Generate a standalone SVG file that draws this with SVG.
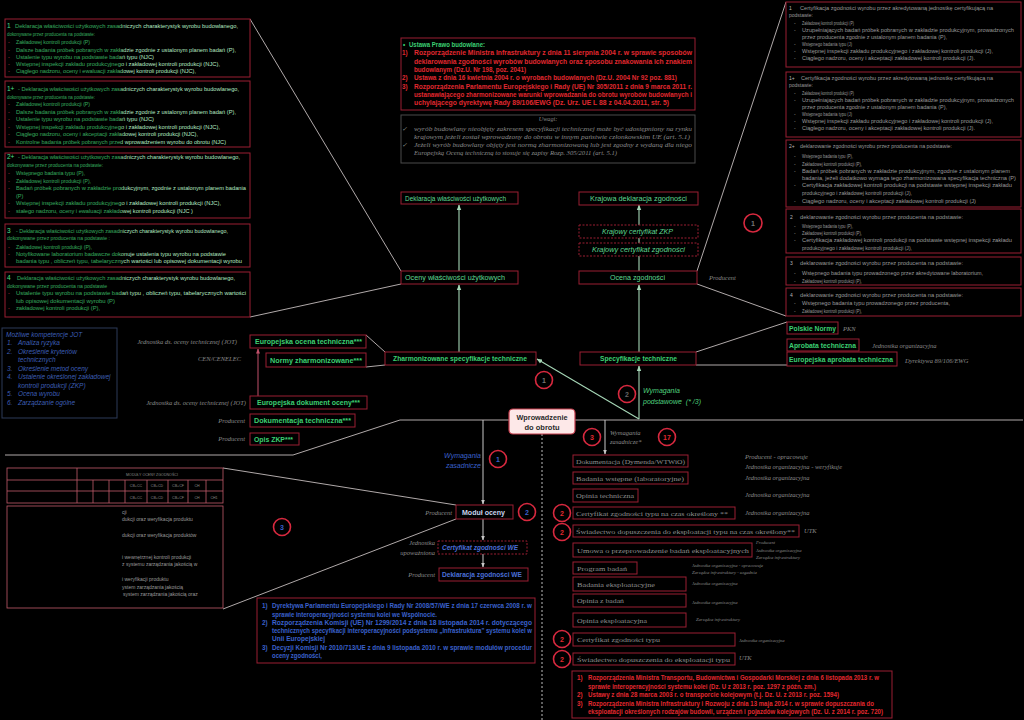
<svg xmlns="http://www.w3.org/2000/svg" width="1024" height="720" viewBox="0 0 1024 720">
<defs>
<style>
text{font-family:"Liberation Sans",Arial,sans-serif}
.bx{fill:#000;stroke:#9a1f33;stroke-width:1}
.dbx{fill:#000;stroke:#9a1f33;stroke-width:1;stroke-dasharray:2 1.5}
.lbl{fill:#3ccf72;font-size:7px;font-weight:bold}
.lbr{fill:#5fd890;font-size:7px}
.it{font-family:"Liberation Serif",serif;font-style:italic;fill:#8a8a8a;font-size:6.5px}
.its{font-family:"Liberation Serif",serif;font-style:italic;fill:#8a8a8a;font-size:4.6px}
.gtx{font-family:"Liberation Serif",serif;fill:#8e8e8e;font-size:7px}
.lt{fill:url(#lg);font-size:5.5px}
.num{fill:#4fe08a;font-size:6.5px}
.dsh{fill:#c23040;font-size:5.5px}
.rt{fill:#9a9a9a;font-size:5px}
.rd{fill:#b8b8b8;font-size:5px}
.red{fill:#e0282f;font-size:6.3px;font-weight:bold}
.blu{fill:#3a60cc;font-size:6.3px;font-weight:bold}
.uw{font-family:"Liberation Serif",serif;font-style:italic;fill:#8a8a8a;font-size:6.2px}
.jot{fill:#3d5fb5;font-size:6.5px;font-style:italic}
.c{fill:#000;stroke:#d8293f;stroke-width:1.6}
.cn{font-size:7px;font-weight:bold;text-anchor:middle}
.ln{stroke:#c4bcbc;stroke-width:0.9;fill:none}
.ga{stroke:#a5d6b6;stroke-width:1.1;fill:none;marker-end:url(#ag)}
.wa{stroke:#c8c8c8;stroke-width:1;fill:none;marker-end:url(#aw)}
.tb{fill:none;stroke:#c05a6a;stroke-width:0.8}
.tt{fill:#8a8a8a;font-size:3.6px;text-anchor:middle}
.bt{fill:#9a9a9a;font-size:5px}
</style>
<linearGradient id="lg" gradientUnits="userSpaceOnUse" x1="0" y1="0" x2="250" y2="0">
<stop offset="0.47" stop-color="#34a85c"/>
<stop offset="0.5" stop-color="#b6f2c8"/>
</linearGradient>
<marker id="ag" viewBox="0 0 10 10" refX="9" refY="5" markerWidth="5" markerHeight="5" orient="auto"><path d="M0,1 L10,5 L0,9 z" fill="#a5d6b6"/></marker>
<marker id="aw" viewBox="0 0 10 10" refX="9" refY="5" markerWidth="5" markerHeight="5" orient="auto"><path d="M0,1 L10,5 L0,9 z" fill="#c8c8c8"/></marker>
<marker id="ap" viewBox="0 0 10 10" refX="9" refY="5" markerWidth="5" markerHeight="5" orient="auto"><path d="M0,1 L10,5 L0,9 z" fill="#c0506a"/></marker>
</defs>
<rect width="1024" height="720" fill="#000"/>

<g id="connectors">
<line class="ln" x1="250" y1="19" x2="401" y2="271"/>
<line class="ln" x1="250" y1="317" x2="401" y2="284"/>
<line class="ln" x1="786" y1="2" x2="697" y2="271"/>
<line class="ln" x1="697" y1="284" x2="786" y2="316"/>
<line class="ln" x1="366" y1="335" x2="385" y2="352"/>
<line class="ln" x1="366" y1="367" x2="385" y2="365"/>
<line class="ln" x1="696" y1="352" x2="787" y2="322"/>
<line class="ln" x1="696" y1="365" x2="787" y2="365"/>
<line class="ln" x1="223" y1="468" x2="456" y2="505"/>
<line class="ln" x1="456" y1="519" x2="223" y2="609"/>
<polyline class="ln" points="5,455 293,455 400,420 1023,420"/>
<line class="ga" x1="459" y1="352" x2="459" y2="285"/>
<line class="ga" x1="459" y1="271" x2="459" y2="205"/>
<line class="ga" x1="639" y1="352" x2="639" y2="285"/>
<line class="ga" x1="639" y1="271" x2="639" y2="205"/>
<line class="ga" x1="639" y1="419" x2="639" y2="366"/>
<line class="ga" x1="639" y1="419" x2="537" y2="359"/>
<line x1="258" y1="396" x2="258" y2="349" stroke="#c0506a" stroke-width="1" marker-end="url(#ap)"/>
<line class="wa" x1="483" y1="420" x2="483" y2="504"/>
<line class="wa" x1="483" y1="519" x2="483" y2="540"/>
<line class="wa" x1="483" y1="554" x2="483" y2="567"/>
<line class="wa" x1="605" y1="420" x2="605" y2="454"/>
<line x1="542" y1="434" x2="542" y2="720" stroke="#bdbdbd" stroke-width="1" stroke-dasharray="2 2"/>
</g>

<g id="left-box-1">
<rect class="bx" x="5" y="19" width="245" height="58"/>
<text class="num" x="7" y="28">1</text>
<text class="lt" x="15" y="28" textLength="223" lengthAdjust="spacingAndGlyphs">Deklaracja właściwości użytkowych zasadniczych charakterystyk wyrobu budowlanego,</text>
<text class="lt" x="7" y="35.5" textLength="88" lengthAdjust="spacingAndGlyphs">dokonywane przez producenta na podstawie:</text>
<text class="dsh" x="8" y="44">-</text><text class="lt" x="16" y="44" textLength="74" lengthAdjust="spacingAndGlyphs">Zakładowej kontroli produkcji (P)</text>
<text class="dsh" x="8" y="51.5">-</text><text class="lt" x="16" y="51.5" textLength="220" lengthAdjust="spacingAndGlyphs">Dalsze badania próbek pobranych w zakładzie  zgodnie z ustalonym  planem badań (P),</text>
<text class="dsh" x="8" y="59">-</text><text class="lt" x="16" y="59" textLength="138" lengthAdjust="spacingAndGlyphs">Ustalenie typu wyrobu na podstawie badań typu (NJC)</text>
<text class="dsh" x="8" y="66">-</text><text class="lt" x="16" y="66" textLength="204" lengthAdjust="spacingAndGlyphs">Wstępnej inspekcji zakładu produkcyjnego  i zakładowej kontroli produkcji (NJC),</text>
<text class="dsh" x="8" y="73">-</text><text class="lt" x="16" y="73" textLength="180" lengthAdjust="spacingAndGlyphs">Ciągłego nadzoru, oceny i ewaluacji zakładowej kontroli produkcji (NJC),</text>
</g>

<g id="left-box-1plus">
<rect class="bx" x="5" y="81" width="245" height="66"/>
<text class="num" x="7" y="91">1+</text>
<text class="lt" x="18" y="91" textLength="221" lengthAdjust="spacingAndGlyphs">- Deklaracja właściwości użytkowych zasadniczych charakterystyk wyrobu budowlanego,</text>
<text class="lt" x="7" y="98.5" textLength="88" lengthAdjust="spacingAndGlyphs">dokonywane przez producenta na podstawie:</text>
<text class="dsh" x="8" y="106">-</text><text class="lt" x="16" y="106" textLength="74" lengthAdjust="spacingAndGlyphs">Zakładowej kontroli produkcji (P)</text>
<text class="dsh" x="8" y="113.5">-</text><text class="lt" x="16" y="113.5" textLength="220" lengthAdjust="spacingAndGlyphs">Dalsze badania próbek pobranych w zakładzie  zgodnie z ustalonym  planem badań (P),</text>
<text class="dsh" x="8" y="121">-</text><text class="lt" x="16" y="121" textLength="138" lengthAdjust="spacingAndGlyphs">Ustalenie typu wyrobu na podstawie badań typu (NJC)</text>
<text class="dsh" x="8" y="128.5">-</text><text class="lt" x="16" y="128.5" textLength="204" lengthAdjust="spacingAndGlyphs">Wstępnej inspekcji zakładu produkcyjnego  i zakładowej kontroli produkcji (NJC),</text>
<text class="dsh" x="8" y="136">-</text><text class="lt" x="16" y="136" textLength="182" lengthAdjust="spacingAndGlyphs">Ciągłego nadzoru, oceny i akceptacji zakładowej kontroli produkcji (NJC),</text>
<text class="dsh" x="8" y="143.5">-</text><text class="lt" x="16" y="143.5" textLength="210" lengthAdjust="spacingAndGlyphs">Kontrolne badania próbek pobranych przed wprowadzeniem wyrobu do obrotu (NJC)</text>
</g>

<g id="left-box-2plus">
<rect class="bx" x="5" y="153" width="245" height="65"/>
<text class="num" x="7" y="159">2+</text>
<text class="lt" x="18" y="159" textLength="222" lengthAdjust="spacingAndGlyphs">- Deklaracja właściwości użytkowych zasadniczych charakterystyk wyrobu budowlanego,</text>
<text class="lt" x="7" y="167" textLength="96" lengthAdjust="spacingAndGlyphs">dokonywane przez producenta na podstawie:</text>
<text class="dsh" x="8" y="175">-</text><text class="lt" x="16" y="175" textLength="69" lengthAdjust="spacingAndGlyphs">Wstępnego badania typu (P),</text>
<text class="dsh" x="8" y="182.5">-</text><text class="lt" x="16" y="182.5" textLength="75" lengthAdjust="spacingAndGlyphs">Zakładowej kontroli produkcji (P),</text>
<text class="dsh" x="8" y="190">-</text><text class="lt" x="16" y="190" textLength="230" lengthAdjust="spacingAndGlyphs">Badań próbek pobranych w zakładzie produkcyjnym, zgodnie z ustalonym  planem badania</text>
<text class="lt" x="16" y="197.5">(P)</text>
<text class="dsh" x="8" y="205">-</text><text class="lt" x="16" y="205" textLength="205" lengthAdjust="spacingAndGlyphs">Wstępnej inspekcji zakładu produkcyjnego i  zakładowej kontroli produkcji  (NJC),</text>
<text class="dsh" x="8" y="212.5">-</text><text class="lt" x="16" y="212.5" textLength="177" lengthAdjust="spacingAndGlyphs">stałego nadzoru, oceny i ewaluacji zakładowej kontroli produkcji (NJC )</text>
</g>

<g id="left-box-3">
<rect class="bx" x="5" y="224" width="245" height="43"/>
<text class="num" x="7" y="233">3</text>
<text class="lt" x="16" y="233" textLength="212" lengthAdjust="spacingAndGlyphs">- Deklaracja właściwości użytkowych zasadniczych charakterystyk wyrobu budowlanego,</text>
<text class="lt" x="7" y="240" textLength="103" lengthAdjust="spacingAndGlyphs">dokonywane przez producenta na podstawie :</text>
<text class="dsh" x="8" y="248.5">-</text><text class="lt" x="16" y="248.5" textLength="76" lengthAdjust="spacingAndGlyphs">Zakładowej kontroli produkcji (P),</text>
<text class="dsh" x="8" y="256">-</text><text class="lt" x="16" y="256" textLength="210" lengthAdjust="spacingAndGlyphs">Notyfikowane laboratorium badawcze dokonuje ustalenia typu wyrobu na podstawie</text>
<text class="lt" x="16" y="263" textLength="226" lengthAdjust="spacingAndGlyphs">badania typu , obliczeń typu, tabelarycznych wartości lub opisowej dokumentacji wyrobu</text>
</g>

<g id="left-box-4">
<rect class="bx" x="5" y="272" width="245" height="45"/>
<text class="num" x="7" y="280">4</text>
<text class="lt" x="17" y="280" textLength="218" lengthAdjust="spacingAndGlyphs">Deklaracja właściwości użytkowych zasadniczych charakterystyk wyrobu budowlanego,</text>
<text class="lt" x="7" y="287.5" textLength="100" lengthAdjust="spacingAndGlyphs">dokonywane przez producenta na podstawie</text>
<text class="dsh" x="8" y="295">-</text><text class="lt" x="16" y="295" textLength="230" lengthAdjust="spacingAndGlyphs">Ustalenie typu wyrobu na podstawie badań typu , obliczeń typu, tabelarycznych wartości</text>
<text class="lt" x="16" y="302.5" textLength="99" lengthAdjust="spacingAndGlyphs">lub opisowej dokumentacji wyrobu (P)</text>
<text class="dsh" x="8" y="310">-</text><text class="lt" x="16" y="310" textLength="84" lengthAdjust="spacingAndGlyphs">zakładowej kontroli produkcji (P),</text>
</g>

<g id="legal-box-top">
<rect class="bx" x="401" y="38" width="294" height="72"/>
<text x="403" y="47" fill="#3ccf72" font-size="6.3" font-weight="bold">•</text>
<text x="409" y="47" fill="#3ccf72" font-size="6.3" font-weight="bold" textLength="76" lengthAdjust="spacingAndGlyphs">Ustawa Prawo budowlane:</text>
<text class="red" x="402" y="55">1)</text>
<text class="red" x="414" y="55" textLength="278" lengthAdjust="spacingAndGlyphs">Rozporządzenie Ministra Infrastruktury z dnia 11 sierpnia 2004 r. w sprawie sposobów</text>
<text class="red" x="414" y="64" textLength="278" lengthAdjust="spacingAndGlyphs">deklarowania zgodności wyrobów budowlanych oraz sposobu znakowania ich znakiem</text>
<text class="red" x="414" y="72" textLength="112" lengthAdjust="spacingAndGlyphs">budowlanym (Dz.U. Nr 198, poz. 2041)</text>
<text class="red" x="402" y="80">2)</text>
<text class="red" x="414" y="80" textLength="263" lengthAdjust="spacingAndGlyphs">Ustawa  z dnia 16 kwietnia 2004 r.  o wyrobach budowlanych (Dz.U. 2004 Nr 92 poz. 881)</text>
<text class="red" x="402" y="89">3)</text>
<text class="red" x="414" y="89" textLength="278" lengthAdjust="spacingAndGlyphs">Rozporządzenia Parlamentu Europejskiego i Rady (UE) Nr 305/2011 z dnia 9 marca 2011 r.</text>
<text class="red" x="414" y="97" textLength="278" lengthAdjust="spacingAndGlyphs">ustanawiającego zharmonizowane warunki wprowadzania do obrotu wyrobów budowlanych i</text>
<text class="red" x="414" y="105" textLength="255" lengthAdjust="spacingAndGlyphs">uchylającego dyrektywę Rady 89/106/EWG (Dz. Urz. UE L 88 z 04.04.2011, str. 5)</text>
</g>

<g id="uwagi-box">
<rect x="401" y="115" width="294" height="48" fill="#000" stroke="#4a4a4a" stroke-width="1"/>
<text class="uw" x="548" y="121" text-anchor="middle">Uwagi:</text>
<text class="uw" x="402" y="131">✓</text>
<text class="uw" x="414" y="131" textLength="278" lengthAdjust="spacingAndGlyphs">wyrób budowlany nieobjęty zakresem specyfikacji technicznej może być udostępniony na rynku</text>
<text class="uw" x="414" y="139" textLength="276" lengthAdjust="spacingAndGlyphs">krajowym jeżeli został wprowadzony do obrotu w innym państwie członkowskim UE (art. 5.1)</text>
<text class="uw" x="402" y="147">✓</text>
<text class="uw" x="414" y="147" textLength="278" lengthAdjust="spacingAndGlyphs">Jeżeli wyrób budowlany objęty jest normą zharmonizowaną lub jest zgodny z wydaną dla niego</text>
<text class="uw" x="414" y="155" textLength="203" lengthAdjust="spacingAndGlyphs">Europejską Oceną techniczną to stosuje się zapisy Rozp. 305/2011 (art. 5.1)</text>
</g>

<g id="deklaracja-wu">
<rect class="bx" x="401" y="192" width="117" height="12"/>
<text class="lbr" x="405" y="200.5" textLength="101" lengthAdjust="spacingAndGlyphs">Deklaracja właściwości użytkowych</text>
</g>
<g id="oceny-wu">
<rect class="bx" x="401" y="271" width="117" height="13"/>
<text class="lbr" x="405" y="280" textLength="100" lengthAdjust="spacingAndGlyphs">Oceny właściwości użytkowych</text>
</g>
<g id="krajowa-deklaracja">
<rect class="bx" x="579" y="192" width="119" height="13"/>
<text class="lbr" x="590" y="201" textLength="97" lengthAdjust="spacingAndGlyphs">Krajowa deklaracja zgodności</text>
</g>
<g id="krajowy-cert-zkp">
<rect class="dbx" x="579" y="225" width="119" height="13"/>
<text class="lbr" x="602" y="234" font-style="italic" textLength="71" lengthAdjust="spacingAndGlyphs">Krajowy certyfikat ZKP</text>
</g>
<g id="krajowy-cert-zgod">
<rect class="dbx" x="579" y="243" width="119" height="13"/>
<text class="lbr" x="592" y="252" font-style="italic" textLength="93" lengthAdjust="spacingAndGlyphs">Krajowy certyfikat zgodności</text>
</g>
<g id="ocena-zgodnosci">
<rect class="bx" x="579" y="271" width="118" height="13"/>
<text class="lbr" x="610" y="280" textLength="55" lengthAdjust="spacingAndGlyphs">Ocena zgodności</text>
</g>
<g id="zharmonizowane">
<rect class="bx" x="385" y="352" width="151" height="13"/>
<text class="lbl" x="393" y="361" textLength="134" lengthAdjust="spacingAndGlyphs">Zharmonizowane specyfikacje techniczne</text>
</g>
<g id="specyfikacje">
<rect class="bx" x="580" y="352" width="116" height="13"/>
<text class="lbl" x="600" y="361" textLength="77" lengthAdjust="spacingAndGlyphs">Specyfikacje techniczne</text>
</g>
<g id="polskie-normy">
<rect class="bx" x="787" y="322" width="51" height="12"/>
<text class="lbl" x="789" y="330.5" textLength="47" lengthAdjust="spacingAndGlyphs">Polskie Normy</text>
<text class="it" x="843" y="331">PKN</text>
</g>
<g id="aprobata">
<rect class="bx" x="787" y="339" width="72" height="12"/>
<text class="lbl" x="789" y="347.5" textLength="67" lengthAdjust="spacingAndGlyphs">Aprobata techniczna</text>
<text class="it" x="872" y="348">Jednostka organizacyjna</text>
</g>
<g id="europejska-aprobata">
<rect class="bx" x="787" y="352" width="110" height="14"/>
<text class="lbl" x="789" y="361.5" textLength="104" lengthAdjust="spacingAndGlyphs">Europejska aprobata techniczna</text>
<text class="it" x="905" y="363">Dyrektywa 89/106/EWG</text>
</g>
<g id="eur-ocena-techniczna">
<rect class="bx" x="250" y="335" width="116" height="13"/>
<text class="lbl" x="255" y="344" textLength="107" lengthAdjust="spacingAndGlyphs">Europejska ocena techniczna***</text>
<text class="it" x="237" y="344" text-anchor="end">Jednostka ds. oceny technicznej (JOT)</text>
</g>
<g id="normy-zharm">
<rect class="bx" x="266" y="353" width="100" height="14"/>
<text class="lbl" x="270" y="362.5" textLength="92" lengthAdjust="spacingAndGlyphs">Normy zharmonizowane***</text>
<text class="it" x="241" y="361" text-anchor="end">CEN/CENELEC</text>
</g>
<g id="eur-dokument-oceny">
<rect class="bx" x="250" y="396" width="117" height="13"/>
<text class="lbl" x="257" y="405" textLength="103" lengthAdjust="spacingAndGlyphs">Europejska dokument oceny***</text>
<text class="it" x="246" y="405" text-anchor="end">Jednostka ds. oceny technicznej (JOT)</text>
</g>
<g id="dokumentacja-techniczna">
<rect class="bx" x="250" y="414" width="105" height="13"/>
<text class="lbl" x="254" y="423" textLength="97" lengthAdjust="spacingAndGlyphs">Dokumentacja techniczna***</text>
<text class="it" x="245" y="423" text-anchor="end">Producent</text>
</g>
<g id="opis-zkp">
<rect class="bx" x="250" y="433" width="49" height="12"/>
<text class="lbl" x="254" y="441.5" textLength="39" lengthAdjust="spacingAndGlyphs">Opis ZKP***</text>
<text class="it" x="245" y="441" text-anchor="end">Producent</text>
</g>

<g id="kompetencje-jot">
<rect x="2" y="328" width="115" height="90" fill="#000" stroke="#2c3a58" stroke-width="1"/>
<text class="jot" x="6" y="337">Możliwe kompetencje JOT</text>
<text class="jot" x="7" y="345">1.</text><text class="jot" x="18" y="345">Analiza ryzyka</text>
<text class="jot" x="7" y="354">2.</text><text class="jot" x="18" y="354">Określenie kryteriów</text>
<text class="jot" x="18" y="362">technicznych</text>
<text class="jot" x="7" y="371">3.</text><text class="jot" x="18" y="371">Określenie metod oceny</text>
<text class="jot" x="7" y="379">4.</text><text class="jot" x="18" y="379">Ustalenie określonej zakładowej</text>
<text class="jot" x="18" y="388">kontroli produkcji (ZKP)</text>
<text class="jot" x="7" y="396">5.</text><text class="jot" x="18" y="396">Ocena wyrobu</text>
<text class="jot" x="7" y="405">6.</text><text class="jot" x="18" y="405">Zarządzanie ogólne</text>
</g>

<g id="cert-boxes-right">
<rect class="bx" x="786" y="2" width="235" height="65"/>
<text class="rd" x="789" y="10">1</text>
<text class="rt" x="800" y="10" textLength="193" lengthAdjust="spacingAndGlyphs">Certyfikacja zgodności wyrobu przez akredytowaną jednostkę certyfikującą na</text>
<text class="rt" x="789" y="17">podstawie:</text>
<text class="rt" x="794" y="25">-</text><text class="rt" x="802" y="25" textLength="52" lengthAdjust="spacingAndGlyphs">Zakładowej kontroli produkcji (P)</text>
<text class="rt" x="794" y="32">-</text><text class="rt" x="802" y="32" textLength="212" lengthAdjust="spacingAndGlyphs">Uzupełniających badań próbek pobranych w zakładzie produkcyjnym, prowadzonych</text>
<text class="rt" x="802" y="39" textLength="145" lengthAdjust="spacingAndGlyphs">przez producenta zgodnie z ustalonym  planem badania (P),</text>
<text class="rt" x="794" y="46">-</text><text class="rt" x="802" y="46" textLength="50" lengthAdjust="spacingAndGlyphs">Wstępnego badania typu (J)</text>
<text class="rt" x="794" y="53">-</text><text class="rt" x="802" y="53" textLength="191" lengthAdjust="spacingAndGlyphs">Wstępnej inspekcji zakładu produkcyjnego  i zakładowej kontroli produkcji (J),</text>
<text class="rt" x="794" y="60">-</text><text class="rt" x="802" y="60" textLength="173" lengthAdjust="spacingAndGlyphs">Ciągłego nadzoru, oceny i akceptacji zakładowej kontroli produkcji (J).</text>

<rect class="bx" x="786" y="72" width="235" height="65"/>
<text class="rd" x="789" y="80">1+</text>
<text class="rt" x="801" y="80" textLength="192" lengthAdjust="spacingAndGlyphs">Certyfikacja zgodności wyrobu przez akredytowaną jednostkę certyfikującą na</text>
<text class="rt" x="789" y="87">podstawie:</text>
<text class="rt" x="794" y="95">-</text><text class="rt" x="802" y="95" textLength="52" lengthAdjust="spacingAndGlyphs">Zakładowej kontroli produkcji (P)</text>
<text class="rt" x="794" y="102">-</text><text class="rt" x="802" y="102" textLength="212" lengthAdjust="spacingAndGlyphs">Uzupełniających badań próbek pobranych w zakładzie produkcyjnym, prowadzonych</text>
<text class="rt" x="802" y="109" textLength="145" lengthAdjust="spacingAndGlyphs">przez producenta zgodnie z ustalonym  planem badania (P),</text>
<text class="rt" x="794" y="116">-</text><text class="rt" x="802" y="116" textLength="50" lengthAdjust="spacingAndGlyphs">Wstępnego badania typu (J)</text>
<text class="rt" x="794" y="123">-</text><text class="rt" x="802" y="123" textLength="191" lengthAdjust="spacingAndGlyphs">Wstępnej inspekcji zakładu produkcyjnego  i zakładowej kontroli produkcji (J),</text>
<text class="rt" x="794" y="130">-</text><text class="rt" x="802" y="130" textLength="173" lengthAdjust="spacingAndGlyphs">Ciągłego nadzoru, oceny i akceptacji zakładowej kontroli produkcji (J).</text>

<rect class="bx" x="786" y="140" width="235" height="67"/>
<text class="rd" x="789" y="148">2+</text>
<text class="rt" x="800" y="148" textLength="152" lengthAdjust="spacingAndGlyphs">deklarowanie zgodności wyrobu przez producenta na podstawie:</text>
<text class="rt" x="794" y="158">-</text><text class="rt" x="802" y="158" textLength="51" lengthAdjust="spacingAndGlyphs">Wstępnego badania typu (P),</text>
<text class="rt" x="794" y="166">-</text><text class="rt" x="802" y="166" textLength="60" lengthAdjust="spacingAndGlyphs">Zakładowej kontroli produkcji (P),</text>
<text class="rt" x="794" y="173">-</text><text class="rt" x="802" y="173" textLength="208" lengthAdjust="spacingAndGlyphs">Badań próbek pobranych w zakładzie produkcyjnym, zgodnie z ustalonym  planem</text>
<text class="rt" x="802" y="180" textLength="214" lengthAdjust="spacingAndGlyphs">badania, jeżeli dodatkowo wymaga tego zharmonizowana specyfikacja techniczna (P)</text>
<text class="rt" x="794" y="187">-</text><text class="rt" x="802" y="187" textLength="210" lengthAdjust="spacingAndGlyphs">Certyfikacja zakładowej kontroli produkcji  na podstawie wstępnej inspekcji zakładu</text>
<text class="rt" x="802" y="195" textLength="110" lengthAdjust="spacingAndGlyphs">produkcyjnego  i zakładowej kontroli produkcji (J),</text>
<text class="rt" x="794" y="203">-</text><text class="rt" x="802" y="203" textLength="174" lengthAdjust="spacingAndGlyphs">Ciągłego nadzoru, oceny i akceptacji zakładowej kontroli produkcji (J)</text>

<rect class="bx" x="786" y="209" width="235" height="44"/>
<text class="rd" x="790" y="219">2</text>
<text class="rt" x="800" y="219" textLength="163" lengthAdjust="spacingAndGlyphs">deklarowanie zgodności wyrobu przez producenta na podstawie:</text>
<text class="rt" x="794" y="228">-</text><text class="rt" x="802" y="228" textLength="51" lengthAdjust="spacingAndGlyphs">Wstępnego badania typu (P),</text>
<text class="rt" x="794" y="235">-</text><text class="rt" x="802" y="235" textLength="60" lengthAdjust="spacingAndGlyphs">Zakładowej kontroli produkcji (P),</text>
<text class="rt" x="794" y="242">-</text><text class="rt" x="802" y="242" textLength="210" lengthAdjust="spacingAndGlyphs">Certyfikacja zakładowej kontroli produkcji  na podstawie wstępnej inspekcji zakładu</text>
<text class="rt" x="802" y="250" textLength="110" lengthAdjust="spacingAndGlyphs">produkcyjnego  i zakładowej kontroli produkcji (J),</text>

<rect class="bx" x="786" y="257" width="235" height="28"/>
<text class="rd" x="790" y="265">3</text>
<text class="rt" x="800" y="265" textLength="163" lengthAdjust="spacingAndGlyphs">deklarowanie zgodności wyrobu przez producenta na podstawie:</text>
<text class="rt" x="794" y="275">-</text><text class="rt" x="802" y="275" textLength="181" lengthAdjust="spacingAndGlyphs">Wstępnego badania typu prowadzonego przez akredytowane laboratorium,</text>
<text class="rt" x="794" y="283">-</text><text class="rt" x="802" y="283" textLength="60" lengthAdjust="spacingAndGlyphs">Zakładowej kontroli produkcji (P),</text>

<rect class="bx" x="786" y="288" width="235" height="28"/>
<text class="rd" x="790" y="297">4</text>
<text class="rt" x="800" y="297" textLength="163" lengthAdjust="spacingAndGlyphs">deklarowanie zgodności wyrobu przez producenta na podstawie:</text>
<text class="rt" x="794" y="305">-</text><text class="rt" x="802" y="305" textLength="148" lengthAdjust="spacingAndGlyphs">Wstępnego badania typu prowadzonego przez producenta,</text>
<text class="rt" x="794" y="313">-</text><text class="rt" x="802" y="313" textLength="60" lengthAdjust="spacingAndGlyphs">Zakładowej kontroli produkcji (P),</text>
</g>

<g id="producent-label-right">
<text class="it" x="709" y="280">Producent</text>
</g>

<g id="circles">
<circle class="c" cx="753" cy="223" r="9"/><text class="cn" x="753" y="225.5" fill="#777">1</text>
<circle class="c" cx="544" cy="380" r="8.5"/><text class="cn" x="544" y="382.5" fill="#777">1</text>
<circle class="c" cx="627" cy="394" r="8.5"/><text class="cn" x="627" y="396.5" fill="#666">2</text>
<circle class="c" cx="498" cy="459" r="8.5"/><text class="cn" x="498" y="461.5" fill="#3a60cc">1</text>
<circle class="c" cx="592" cy="437" r="8.5"/><text class="cn" x="592" y="439.5" fill="#e0282f">3</text>
<circle class="c" cx="667" cy="437" r="8.5"/><text class="cn" x="667" y="439.5" fill="#e0282f">17</text>
<circle class="c" cx="527" cy="512" r="8.5"/><text class="cn" x="527" y="514.5" fill="#3a60cc">2</text>
<circle class="c" cx="282" cy="527" r="8.5"/><text class="cn" x="282" y="529.5" fill="#3a60cc">3</text>
<circle class="c" cx="562" cy="513" r="8.5"/><text class="cn" x="562" y="515.5" fill="#e0282f">2</text>
<circle class="c" cx="562" cy="532" r="8.5"/><text class="cn" x="562" y="534.5" fill="#e0282f">2</text>
<circle class="c" cx="562" cy="639" r="8.5"/><text class="cn" x="562" y="641.5" fill="#e0282f">2</text>
<circle class="c" cx="562" cy="659" r="8.5"/><text class="cn" x="562" y="661.5" fill="#e0282f">2</text>
</g>

<g id="wymagania-labels">
<text x="643" y="393" fill="#4fd27f" font-size="7" font-style="italic">Wymagania</text>
<text x="643" y="404" fill="#4fd27f" font-size="7" font-style="italic" xml:space="preserve">podstawowe  (* /3)</text>
<text x="481" y="458" fill="#3a60cc" font-size="7" font-style="italic" text-anchor="end">Wymagania</text>
<text x="481" y="468" fill="#3a60cc" font-size="7" font-style="italic" text-anchor="end">zasadnicze</text>
<text class="it" x="610" y="435" font-size="6">Wymagania</text>
<text class="it" x="610" y="444" font-size="6">zasadnicze*</text>
</g>

<g id="wprowadzenie">
<rect x="509" y="409" width="66" height="25" rx="4" fill="#fde8e8" stroke="#c43a4a" stroke-width="1.2"/>
<text x="542" y="419.5" fill="#2a2a2a" font-size="7.5" font-weight="bold" text-anchor="middle" textLength="51" lengthAdjust="spacingAndGlyphs">Wprowadzenie</text>
<text x="542" y="430" fill="#2a2a2a" font-size="7.5" font-weight="bold" text-anchor="middle">do obrotu</text>
</g>

<g id="modul-oceny">
<rect class="bx" x="456" y="505" width="57" height="14"/>
<text x="462" y="514.5" fill="#c8d4ee" font-size="7" font-weight="bold" textLength="43" lengthAdjust="spacingAndGlyphs">Moduł oceny</text>
<text class="it" x="452" y="515" text-anchor="end">Producent</text>
</g>
<g id="certyfikat-we">
<rect class="dbx" x="438" y="541" width="89" height="13"/>
<text x="442" y="550" fill="#4a6fd8" font-size="7" font-weight="bold" font-style="italic" textLength="76" lengthAdjust="spacingAndGlyphs">Certyfikat zgodności WE</text>
<text class="it" x="435" y="545" text-anchor="end">Jednostka</text>
<text class="it" x="435" y="555" text-anchor="end">upoważniona</text>
</g>
<g id="deklaracja-we">
<rect class="bx" x="439" y="568" width="89" height="13"/>
<text x="442" y="577" fill="#4a6fd8" font-size="7" font-weight="bold" textLength="80" lengthAdjust="spacingAndGlyphs">Deklaracja zgodności WE</text>
<text class="it" x="435" y="577" text-anchor="end">Producent</text>
</g>

<g id="legal-box-eu">
<rect class="bx" x="257" y="598" width="278" height="65"/>
<text class="blu" x="262" y="608">1)</text>
<text class="blu" x="272" y="608" textLength="260" lengthAdjust="spacingAndGlyphs">Dyrektywa Parlamentu Europejskiego i Rady Nr 2008/57/WE z dnia 17 czerwca 2008 r. w</text>
<text class="blu" x="272" y="616.5" textLength="165" lengthAdjust="spacingAndGlyphs">sprawie interoperacyjności  systemu kolei we Wspólnocie.</text>
<text class="blu" x="262" y="625">2)</text>
<text class="blu" x="272" y="625" textLength="260" lengthAdjust="spacingAndGlyphs">Rozporządzenia Komisji (UE) Nr 1299/2014 z dnia 18 listopada 2014 r. dotyczącego</text>
<text class="blu" x="272" y="633" textLength="260" lengthAdjust="spacingAndGlyphs">technicznych specyfikacji interoperacyjności podsystemu „Infrastruktura" systemu kolei w</text>
<text class="blu" x="272" y="641" textLength="53" lengthAdjust="spacingAndGlyphs">Unii Europejskiej</text>
<text class="blu" x="262" y="650">3)</text>
<text class="blu" x="272" y="650" textLength="260" lengthAdjust="spacingAndGlyphs">Decyzji Komisji Nr 2010/713/UE z dnia 9 listopada 2010 r. w sprawie modułów procedur</text>
<text class="blu" x="272" y="658" textLength="50" lengthAdjust="spacingAndGlyphs">oceny zgodności,</text>
</g>

<g id="modules-table">
<rect class="tb" x="7" y="468" width="216" height="35"/>
<line class="tb" x1="7" y1="480" x2="223" y2="480"/>
<line class="tb" x1="7" y1="491" x2="223" y2="491"/>
<line class="tb" x1="77" y1="468" x2="77" y2="503"/>
<line class="tb" x1="93" y1="480" x2="93" y2="503"/>
<line class="tb" x1="109" y1="480" x2="109" y2="503"/>
<line class="tb" x1="125" y1="480" x2="125" y2="503"/>
<line class="tb" x1="147" y1="480" x2="147" y2="503"/>
<line class="tb" x1="168" y1="480" x2="168" y2="503"/>
<line class="tb" x1="188" y1="480" x2="188" y2="503"/>
<line class="tb" x1="206" y1="480" x2="206" y2="503"/>
<text class="tt" x="152" y="475.5">MODUŁY OCENY ZGODNOŚCI</text>
<text class="tt" x="136" y="487">CB+CC</text><text class="tt" x="157" y="487">CB+CD</text><text class="tt" x="178" y="487">CB+CF</text><text class="tt" x="197" y="487">CH</text>
<text class="tt" x="136" y="498.5">CB+CC</text><text class="tt" x="157" y="498.5">CB+CD</text><text class="tt" x="178" y="498.5">CB+CF</text><text class="tt" x="197" y="498.5">CH</text><text class="tt" x="214" y="498.5">CH1</text>
</g>
<g id="modules-text">
<rect class="tb" x="7" y="506" width="216" height="102"/>
<text class="bt" x="122" y="514">cji</text>
<text class="bt" x="122" y="521">dukcji oraz weryfikacja produktu</text>
<text class="bt" x="122" y="537">dukcji oraz weryfikacja produktów</text>
<text class="bt" x="122" y="559">i wewnętrznej kontroli produkcji</text>
<text class="bt" x="122" y="566">z systemu zarządzania jakością w</text>
<text class="bt" x="122" y="581">i weryfikacji produktu</text>
<text class="bt" x="122" y="588.5">ystem zarządzania jakością</text>
<text class="bt" x="123" y="596">system zarządzania jakością oraz</text>
</g>

<g id="rail-steps">
<rect class="bx" x="573" y="455" width="115" height="12"/>
<text class="gtx" x="576" y="464" textLength="109" lengthAdjust="spacingAndGlyphs">Dokumentacja (Dymenda/WTWiO)</text>
<rect class="bx" x="573" y="472" width="115" height="12"/>
<text class="gtx" x="576" y="481" textLength="108" lengthAdjust="spacingAndGlyphs">Badania wstępne (laboratoryjne)</text>
<rect class="bx" x="573" y="489" width="65" height="13"/>
<text class="gtx" x="576" y="498" textLength="58" lengthAdjust="spacingAndGlyphs">Opinia techniczna</text>
<rect class="bx" x="573" y="507" width="162" height="12"/>
<text class="gtx" x="576" y="516" textLength="152" lengthAdjust="spacingAndGlyphs">Certyfikat zgodności typu na czas określony **</text>
<rect class="bx" x="573" y="525" width="226" height="12"/>
<text class="gtx" x="576" y="534" textLength="219" lengthAdjust="spacingAndGlyphs">Świadectwo dopuszczenia do eksploatacji typu na czas określony**</text>
<rect class="bx" x="573" y="543" width="179" height="14"/>
<text class="gtx" x="577" y="553" textLength="172" lengthAdjust="spacingAndGlyphs">Umowa o przeprowadzenie badań eksploatacyjnych</text>
<rect class="bx" x="573" y="562" width="64" height="12"/>
<text class="gtx" x="577" y="571" textLength="50" lengthAdjust="spacingAndGlyphs">Program badań</text>
<rect class="bx" x="573" y="577" width="113" height="14"/>
<text class="gtx" x="577" y="587" textLength="78" lengthAdjust="spacingAndGlyphs">Badania eksploatacyjne</text>
<rect class="bx" x="573" y="594" width="113" height="13"/>
<text class="gtx" x="577" y="603" textLength="47" lengthAdjust="spacingAndGlyphs">Opinia z badań</text>
<rect class="bx" x="573" y="613" width="113" height="14"/>
<text class="gtx" x="577" y="623" textLength="70" lengthAdjust="spacingAndGlyphs">Opinia eksploatacyjna</text>
<rect class="bx" x="573" y="633" width="162" height="13"/>
<text class="gtx" x="577" y="642" textLength="83" lengthAdjust="spacingAndGlyphs">Certyfikat zgodności typu</text>
<rect class="bx" x="573" y="653" width="162" height="12"/>
<text class="gtx" x="577" y="662" textLength="153" lengthAdjust="spacingAndGlyphs">Świadectwo dopuszczenia do eksploatacji typu</text>
</g>

<g id="rail-labels">
<text class="it" x="745" y="459">Producent - opracowuje</text>
<text class="it" x="745" y="469">Jednostka organizacyjna - weryfikuje</text>
<text class="it" x="745" y="480">Jednostka organizacyjna</text>
<text class="it" x="745" y="497">Jednostka organizacyjna</text>
<text class="it" x="745" y="515">Jednostka organizacyjna</text>
<text class="it" x="804" y="533">UTK</text>
<text class="its" x="756" y="544">Producent</text>
<text class="its" x="756" y="551.5">Jednostka organizacyjna</text>
<text class="its" x="756" y="559">Zarządca infrastruktury</text>
<text class="its" x="692" y="567">Jednostka organizacyjna - opracowuje</text>
<text class="its" x="692" y="574">Zarządca infrastruktury - uzgadnia</text>
<text class="its" x="692" y="585">Jednostka organizacyjna</text>
<text class="its" x="692" y="604">Jednostka organizacyjna</text>
<text class="its" x="696" y="621">Zarządca infrastruktury</text>
<text class="its" x="739" y="642">Jednostka organizacyjna</text>
<text class="it" x="739" y="660">UTK</text>
</g>

<g id="legal-box-rail">
<rect class="bx" x="572" y="671" width="320" height="47"/>
<text class="red" x="577" y="679.5">1)</text>
<text class="red" x="588" y="679.5" textLength="291" lengthAdjust="spacingAndGlyphs">Rozporządzenia Ministra Transportu, Budownictwa i Gospodarki Morskiej z dnia 6 listopada 2013 r. w</text>
<text class="red" x="588" y="688.5" textLength="228" lengthAdjust="spacingAndGlyphs">sprawie interoperacyjności systemu kolei (Dz. U z 2013 r. poz. 1297 z późn. zm.)</text>
<text class="red" x="577" y="697">2)</text>
<text class="red" x="588" y="697" textLength="251" lengthAdjust="spacingAndGlyphs">Ustawy z dnia 28 marca 2003 r. o transporcie kolejowym (t.j. Dz. U. z 2013 r. poz. 1594)</text>
<text class="red" x="577" y="705.5">3)</text>
<text class="red" x="588" y="705.5" textLength="286" lengthAdjust="spacingAndGlyphs">Rozporządzenia Ministra Infrastruktury i Rozwoju z dnia 13 maja 2014 r. w sprawie dopuszczania do</text>
<text class="red" x="588" y="714" textLength="295" lengthAdjust="spacingAndGlyphs">eksploatacji określonych rodzajów budowli, urządzeń i pojazdów kolejowych (Dz. U. z 2014 r. poz. 720)</text>
</g>
</svg>
